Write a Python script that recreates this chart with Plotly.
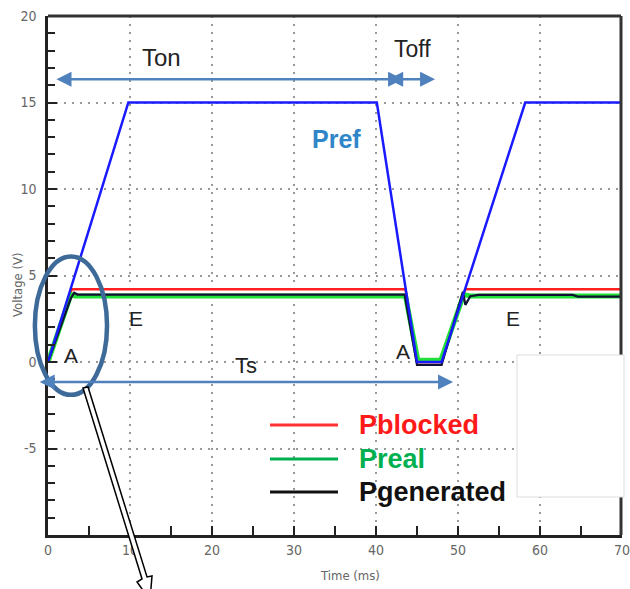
import plotly.graph_objects as go

# ---- series (time in ms, voltage in V) ----
pref_t = [0, 9.8, 40.1, 45.0, 48.0, 58.2, 70]
pref_v = [0, 15, 15, 0, 0, 15, 15]

pblocked_t = [0, 2.9, 43.6, 45.0, 48.0, 50.9, 70]
pblocked_v = [0, 4.21, 4.21, 0.0, 0.0, 4.21, 4.21]

preal_t = [0, 2.8, 3.3, 43.6, 45.1, 47.9, 50.7, 51.5, 70]
preal_v = [0, 3.9, 3.82, 3.82, 0.1, 0.1, 3.9, 3.82, 3.82]

pgen_t = [0, 2.8, 3.2, 3.6, 43.5, 45.0, 48.0, 50.6, 50.9, 51.5, 52.5, 64.0, 64.6, 70]
pgen_v = [0, 3.7, 4.0, 3.9, 3.9, -0.17, -0.17, 4.06, 3.3, 3.8, 3.88, 3.88, 3.78, 3.78]

x_ticks = [0, 10, 20, 30, 40, 50, 60, 70]
y_ticks = [-5, 0, 5, 10, 15, 20]
y_tick_text = ["-5", "0", "5", "10", "15", "20"]
x_range = [0, 70]
y_range = [-10, 20]

legend_names = ["Pblocked", "Preal", "Pgenerated"]
legend_colors = ["#ff1a1a", "#00b050", "#111111"]

# ---- layout geometry (pixels in a 630x589 page) ----
W, H = 630, 589
ML, MR, MT, MB = 48, 8, 16, 54
PW, PH = W - ML - MR, H - MT - MB


def px(x, y):
    """page pixel -> paper coordinates"""
    return (x - ML) / PW, (H - MB - y) / PH


def dx(x):
    return (x - x_range[0]) / (x_range[1] - x_range[0])


def dy(y):
    return (y - y_range[0]) / (y_range[1] - y_range[0])


fig = go.Figure()
fig.add_trace(go.Scatter(x=pblocked_t, y=pblocked_v, mode="lines", name="Pblocked",
                         line=dict(color="#ff2020", width=2.5)))
fig.add_trace(go.Scatter(x=preal_t, y=preal_v, mode="lines", name="Preal",
                         line=dict(color="#22e03a", width=5)))
fig.add_trace(go.Scatter(x=pgen_t, y=pgen_v, mode="lines", name="Pgenerated",
                         line=dict(color="#111133", width=2.2)))
fig.add_trace(go.Scatter(x=pref_t, y=pref_v, mode="lines", name="Pref",
                         line=dict(color="#1a1aff", width=2.5)))

axis_font = dict(family="DejaVu Sans Condensed, Liberation Sans Narrow, Liberation Sans",
                 size=14, color="#666666")

fig.update_layout(
    width=W, height=H,
    margin=dict(l=ML, r=MR, t=MT, b=MB),
    paper_bgcolor="white", plot_bgcolor="white",
    showlegend=False,
    xaxis=dict(range=x_range, tickvals=x_ticks, ticks="inside", ticklen=9, tickwidth=2,
               tickcolor="#222", showline=True, linecolor="#222", linewidth=2.5,
               showgrid=True, gridcolor="#999", gridwidth=2, griddash="2px,6px",
               zeroline=False, tickfont=axis_font, automargin=False,
               ticklabeloverflow="allow",
               minor=dict(dtick=5, ticks="inside", ticklen=9, tickwidth=2, tickcolor="#222",
                          showgrid=False)),
    yaxis=dict(range=y_range, tickvals=y_ticks, ticktext=y_tick_text, ticks="inside",
               ticklen=9, tickwidth=2,
               tickcolor="#222", showline=True, linecolor="#222", linewidth=2.5,
               showgrid=True, gridcolor="#999", gridwidth=2, griddash="2px,6px",
               zeroline=False, tickfont=axis_font, ticklabelstandoff=6, automargin=False,
               ticklabeloverflow="allow",
               minor=dict(dtick=1, ticks="inside", ticklen=7, tickwidth=2, tickcolor="#222",
                          showgrid=False)),
)

shapes = []
annotations = []

# frame: top and right edges of the plotting area
rx, _ = px(621, 0)
shapes.append(dict(type="line", xref="paper", yref="paper", x0=0, x1=rx, y0=1, y1=1,
                   line=dict(color="#333", width=3), layer="above"))
shapes.append(dict(type="line", xref="paper", yref="paper", x0=rx, x1=rx, y0=0, y1=1,
                   line=dict(color="#333", width=3), layer="above"))

# axis titles
tx, ty = px(350, 575)
annotations.append(dict(x=tx, y=ty, xref="paper", yref="paper", text="Time (ms)",
                        xanchor="center", yanchor="middle", showarrow=False,
                        font=dict(family=axis_font["family"], size=13, color="#666")))
tx, ty = px(17, 285)
annotations.append(dict(x=tx, y=ty, xref="paper", yref="paper", text="Voltage (V)",
                        textangle=-90, xanchor="center", yanchor="middle", showarrow=False,
                        font=dict(family=axis_font["family"], size=13, color="#666")))

# white panel in the lower right
x0, y0 = px(517, 355)
x1, y1 = px(624, 497)
shapes.append(dict(type="rect", xref="paper", yref="paper", x0=x0, y0=y0, x1=x1, y1=y1,
                   fillcolor="white", line=dict(color="#dddddd", width=1), layer="above"))

# interval arrows
arrow_c = "#4f81bd"
for (xa, xb, yv) in [(0.85, 43.3, 16.35), (41.3, 47.2, 16.35), (-1.2, 49.4, -1.15)]:
    annotations.append(dict(x=xb, y=yv, ax=xa, ay=yv, xref="x", yref="y", axref="x", ayref="y",
                            text="", showarrow=True, arrowhead=2, arrowside="end+start",
                            arrowsize=1.2, arrowwidth=2.5, arrowcolor=arrow_c, standoff=0,
                            startstandoff=0))

txt_font = "Liberation Sans, Arial"
for (x, y, s, size) in [(13.9, 17.6, "Ton", 24), (44.5, 18.1, "Toff", 23), (24.1, -0.2, "Ts", 22),
                        (10.7, 2.5, "E", 21), (56.7, 2.5, "E", 21), (2.8, 0.4, "A", 21),
                        (43.3, 0.6, "A", 21)]:
    annotations.append(dict(x=x, y=y, xref="x", yref="y", text=s, showarrow=False,
                            xanchor="center", yanchor="middle",
                            font=dict(family=txt_font, size=size, color="#222")))
annotations.append(dict(x=35.2, y=12.9, xref="x", yref="y", text="<b>Pref</b>", showarrow=False,
                        xanchor="center", yanchor="middle",
                        font=dict(family=txt_font, size=25, color="#2e86c8")))

# ellipse around the start-up region
shapes.append(dict(type="circle", xref="paper", yref="paper",
                   x0=dx(-1.6), x1=dx(7.2), y0=dy(-1.9), y1=dy(6.1),
                   line=dict(color="#3e6a9a", width=4.5), layer="above"))

# hollow pointer arrow leaving the ellipse
pts = [(83, 388), (88, 387), (147, 577), (152, 576), (150, 600), (137, 582), (142, 579)]
path = "M " + " L ".join("{:.4f},{:.4f}".format(*px(a, b)) for a, b in pts) + " Z"
shapes.append(dict(type="path", xref="paper", yref="paper", path=path,
                   fillcolor="white", line=dict(color="black", width=1.5), layer="above"))

# legend block
for i, (name, col) in enumerate(zip(legend_names, legend_colors)):
    ly = [425, 459, 492][i]
    a0, b0 = px(270, ly)
    a1, _ = px(338, ly)
    shapes.append(dict(type="line", xref="paper", yref="paper", x0=a0, x1=a1, y0=b0, y1=b0,
                       line=dict(color=col if i else "#ff3333", width=3), layer="above"))
    tx, ty = px(357, ly)
    annotations.append(dict(x=tx, y=ty, xref="paper", yref="paper", text="<b>%s</b>" % name,
                            showarrow=False, xanchor="left", yanchor="middle",
                            font=dict(family=txt_font, size=27, color=col)))

fig.update_layout(shapes=shapes, annotations=annotations)
fig.write_html("out.html")
